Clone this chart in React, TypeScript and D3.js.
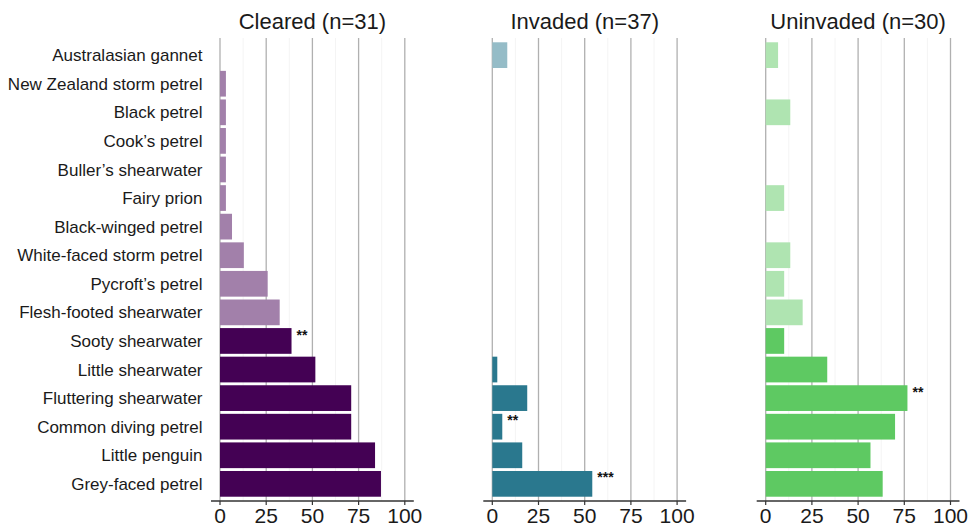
import React from "react";
import * as d3 from "d3";

const categories = [
  "Australasian gannet",
  "New Zealand storm petrel",
  "Black petrel",
  "Cook’s petrel",
  "Buller’s shearwater",
  "Fairy prion",
  "Black-winged petrel",
  "White-faced storm petrel",
  "Pycroft’s petrel",
  "Flesh-footed shearwater",
  "Sooty shearwater",
  "Little shearwater",
  "Fluttering shearwater",
  "Common diving petrel",
  "Little penguin",
  "Grey-faced petrel",
];

const highlighted = [
  false, false, false, false, false, false, false, false, false, false,
  true, true, true, true, true, true,
];

const clearedValues = [0, 3.2, 3.2, 3.2, 3.2, 3.2, 6.5, 12.9, 25.8, 32.3, 38.7, 51.6, 71.0, 71.0, 83.9, 87.1];
const invadedValues = [8.1, 0, 0, 0, 0, 0, 0, 0, 0, 0, 0, 2.7, 18.9, 5.4, 16.2, 54.1];
const uninvadedValues = [6.7, 0, 13.3, 0, 0, 10.0, 0, 13.3, 10.0, 20.0, 10.0, 33.3, 76.7, 70.0, 56.7, 63.3];

const clearedSig = ["", "", "", "", "", "", "", "", "", "", "**", "", "", "", "", ""];
const invadedSig = ["", "", "", "", "", "", "", "", "", "", "", "", "", "**", "", "***"];
const uninvadedSig = ["", "", "", "", "", "", "", "", "", "", "", "", "**", "", "", ""];

const panelTitles = ["Cleared (n=31)", "Invaded (n=37)", "Uninvaded (n=30)"];
const xTicks = [0, 25, 50, 75, 100];
const xMinorTicks = [12.5, 37.5, 62.5, 87.5];

const panelColors = ["#440154", "#2a788e", "#5ec962"];

const W = 968;
const H = 528;
const FONT = "'Liberation Sans', Arial, Helvetica, sans-serif";

const panelLefts = [220, 492.3, 765.7];
const panelWidth = 184.8;
const panelTop = 38;
const panelBottom = 501;
const expand = 9;

export default function App() {
  const series = [clearedValues, invadedValues, uninvadedValues];
  const sigs = [clearedSig, invadedSig, uninvadedSig];

  const y = d3
    .scaleBand<string>()
    .domain(categories)
    .range([panelTop, panelBottom])
    .paddingInner(0.1)
    .paddingOuter(0.15);

  return (
    <svg
      width={W}
      height={H}
      style={{ position: "absolute", left: 0, top: 0, background: "#fff" }}
      fontFamily={FONT}
    >
      <rect x={0} y={0} width={W} height={H} fill="#fff" />
      {categories.map((c) => (
        <text
          key={c}
          x={202.5}
          y={(y(c) as number) + y.bandwidth() / 2}
          dy="0.36em"
          textAnchor="end"
          fontSize={17}
          fill="#1a1a1a"
        >
          {c}
        </text>
      ))}
      {series.map((vals, p) => {
        const x = d3
          .scaleLinear()
          .domain([0, 100])
          .range([panelLefts[p], panelLefts[p] + panelWidth]);
        const color = d3.color(panelColors[p])!;
        const light = d3.interpolateRgb(panelColors[p], "#ffffff")(0.5);
        return (
          <g key={p}>
            {xMinorTicks.map((t) => (
              <line
                key={"m" + t}
                x1={x(t)}
                x2={x(t)}
                y1={panelTop}
                y2={panelBottom}
                stroke="#f4f4f4"
                strokeWidth={1}
              />
            ))}
            {xTicks.map((t) => (
              <line
                key={"g" + t}
                x1={x(t)}
                x2={x(t)}
                y1={panelTop}
                y2={panelBottom}
                stroke="#b0b0b0"
                strokeWidth={1.3}
              />
            ))}
            {vals.map((v, i) =>
              v > 0 ? (
                <rect
                  key={"b" + i}
                  x={x(0)}
                  y={y(categories[i]) as number}
                  width={x(v) - x(0)}
                  height={y.bandwidth()}
                  fill={highlighted[i] ? color.formatHex() : light}
                />
              ) : null
            )}
            {sigs[p].map((s, i) =>
              s ? (
                <text
                  key={"s" + i}
                  x={x(vals[i]) + 5}
                  y={(y(categories[i]) as number) + y.bandwidth() / 2}
                  dy="-0.1em"
                  fontSize={14}
                  fontWeight="bold"
                  fill="#111"
                >
                  {s}
                </text>
              ) : null
            )}
            <line
              x1={x(0) - expand}
              x2={x(100) + expand}
              y1={panelBottom}
              y2={panelBottom}
              stroke="#333"
              strokeWidth={1.3}
            />
            {xTicks.map((t) => (
              <g key={"t" + t}>
                <line
                  x1={x(t)}
                  x2={x(t)}
                  y1={panelBottom}
                  y2={panelBottom + 4}
                  stroke="#333"
                  strokeWidth={1.2}
                />
                <text
                  x={x(t)}
                  y={522.5}
                  textAnchor="middle"
                  fontSize={21}
                  fill="#1a1a1a"
                >
                  {t}
                </text>
              </g>
            ))}
            <text
              x={(x(0) + x(100)) / 2}
              y={28.5}
              textAnchor="middle"
              fontSize={22}
              fill="#1a1a1a"
            >
              {panelTitles[p]}
            </text>
          </g>
        );
      })}
    </svg>
  );
}
